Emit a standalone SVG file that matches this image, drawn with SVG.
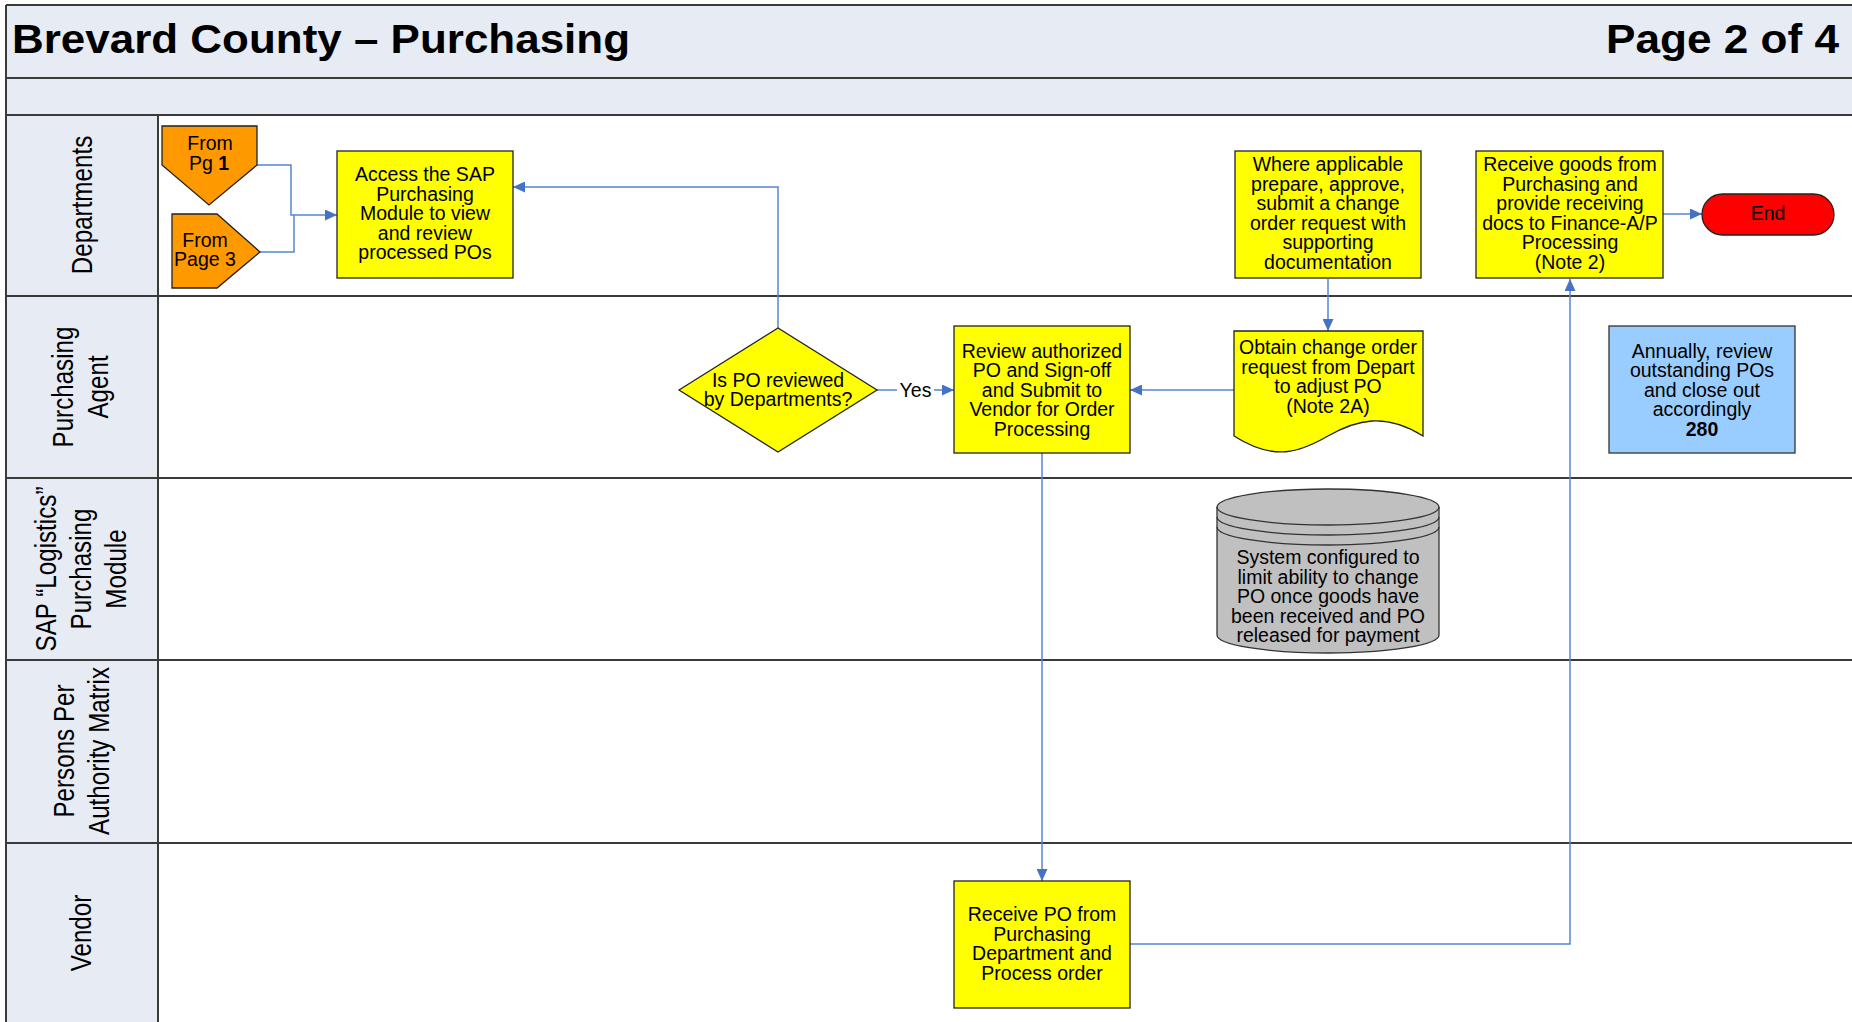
<svg xmlns="http://www.w3.org/2000/svg" width="1852" height="1022" viewBox="0 0 1852 1022">
<style>
  .bg { fill: #E7EBF4; }
  .sep { stroke: #3A3A3A; stroke-width: 2; fill: none; }
  .box { fill: #FFFF00; stroke: #222; stroke-width: 1.3; }
  .off { fill: #FF9900; stroke: #222; stroke-width: 1.3; }
  .t { font-family: "Liberation Sans", Arial, sans-serif; font-size: 19.5px; text-anchor: middle; fill: #000; }
  .lane { font-family: "Liberation Sans", Arial, sans-serif; font-size: 29.5px; text-anchor: middle; fill: #000; }
  .title { font-family: "Liberation Sans", Arial, sans-serif; font-size: 40px; font-weight: bold; fill: #000; }
  .conn { fill: none; stroke: #5585D0; stroke-width: 1.5; }
  .b { font-weight: bold; }
</style>
<defs>
  <marker id="arr" markerWidth="12" markerHeight="11" refX="12" refY="5.5" orient="auto" markerUnits="userSpaceOnUse">
    <path d="M0,0 L12,5.5 L0,11 Z" fill="#4472C4"/>
  </marker>
</defs>

<!-- background -->
<rect x="0" y="0" width="1852" height="1022" fill="#FFFFFF"/>
<rect class="bg" x="6" y="5" width="1846" height="110"/>
<rect class="bg" x="6" y="115" width="152" height="907"/>

<!-- swimlane frame -->
<g id="frame">
  <line class="sep" x1="6" y1="5" x2="1852" y2="5"/>
  <line class="sep" x1="6" y1="5" x2="6" y2="1022"/>
  <line class="sep" x1="6" y1="78" x2="1852" y2="78"/>
  <line class="sep" x1="6" y1="115" x2="1852" y2="115"/>
  <line class="sep" x1="6" y1="296" x2="1852" y2="296"/>
  <line class="sep" x1="6" y1="478" x2="1852" y2="478"/>
  <line class="sep" x1="6" y1="660" x2="1852" y2="660"/>
  <line class="sep" x1="6" y1="843" x2="1852" y2="843"/>
  <line class="sep" x1="158" y1="115" x2="158" y2="1022"/>
</g>

<g id="title">
  <text class="title" x="12" y="53" textLength="618" lengthAdjust="spacingAndGlyphs">Brevard County – Purchasing</text>
  <text class="title" x="1606" y="53" textLength="233" lengthAdjust="spacingAndGlyphs">Page 2 of 4</text>
</g>

<g id="lane-labels">
  <text class="lane" transform="translate(92 205) scale(1 0.82) rotate(-90)">Departments</text>
  <text class="lane" transform="translate(73 387) scale(1 0.82) rotate(-90)">Purchasing</text>
  <text class="lane" transform="translate(108 387) scale(1 0.82) rotate(-90)">Agent</text>
  <text class="lane" transform="translate(56 569) scale(1 0.82) rotate(-90)">SAP “Logistics”</text>
  <text class="lane" transform="translate(91 569) scale(1 0.82) rotate(-90)">Purchasing</text>
  <text class="lane" transform="translate(126 569) scale(1 0.82) rotate(-90)">Module</text>
  <text class="lane" transform="translate(74 751) scale(1 0.82) rotate(-90)">Persons Per</text>
  <text class="lane" transform="translate(109 751) scale(1 0.82) rotate(-90)">Authority Matrix</text>
  <text class="lane" transform="translate(91 933) scale(1 0.82) rotate(-90)">Vendor</text>
</g>

<!-- connectors -->
<g id="connectors">
  <polyline class="conn" points="257,165 291,165 291,215 337,215" marker-end="url(#arr)"/>
  <polyline class="conn" points="260,252 294,252 294,215"/>
  <polyline class="conn" points="778,328 778,187 513,187" marker-end="url(#arr)"/>
  <polyline class="conn" points="877,390 954,390" marker-end="url(#arr)"/>
  <polyline class="conn" points="1234,390 1130,390" marker-end="url(#arr)"/>
  <polyline class="conn" points="1328,279 1328,331" marker-end="url(#arr)"/>
  <polyline class="conn" points="1042,453 1042,881" marker-end="url(#arr)"/>
  <polyline class="conn" points="1130,944 1570,944 1570,279" marker-end="url(#arr)"/>
  <polyline class="conn" points="1663,214 1702,214" marker-end="url(#arr)"/>
  <g id="label-yes">
    <rect x="897" y="380" width="37" height="20" fill="#FFFFFF"/>
    <text class="t" x="915.5" y="396.5">Yes</text>
  </g>
</g>

<!-- nodes -->
<g id="from-pg1">
  <polygon class="off" points="162,126 257,126 257,165 209,205 162,165"/>
  <text class="t" x="210" y="150">From</text>
  <text class="t" x="209" y="170">Pg <tspan class="b">1</tspan></text>
</g>

<g id="from-page3">
  <polygon class="off" points="172,214 217,214 260,252 217,288 172,288"/>
  <text class="t" x="205" y="246.5">From</text>
  <text class="t" x="205" y="266">Page 3</text>
</g>

<g id="access-sap">
  <rect class="box" x="337" y="151" width="176" height="127"/>
  <text class="t" x="425" y="181">Access the SAP</text>
  <text class="t" x="425" y="200.5">Purchasing</text>
  <text class="t" x="425" y="220">Module to view</text>
  <text class="t" x="425" y="239.5">and review</text>
  <text class="t" x="425" y="259">processed POs</text>
</g>

<g id="where-applicable">
  <rect class="box" x="1235" y="151" width="186" height="127"/>
  <text class="t" x="1328" y="171">Where applicable</text>
  <text class="t" x="1328" y="190.5">prepare, approve,</text>
  <text class="t" x="1328" y="210">submit a change</text>
  <text class="t" x="1328" y="229.5">order request with</text>
  <text class="t" x="1328" y="249">supporting</text>
  <text class="t" x="1328" y="268.5">documentation</text>
</g>

<g id="receive-goods">
  <rect class="box" x="1476" y="151" width="187" height="127"/>
  <text class="t" x="1570" y="171">Receive goods from</text>
  <text class="t" x="1570" y="190.5">Purchasing and</text>
  <text class="t" x="1570" y="210">provide receiving</text>
  <text class="t" x="1570" y="229.5">docs to Finance-A/P</text>
  <text class="t" x="1570" y="249">Processing</text>
  <text class="t" x="1570" y="268.5">(Note 2)</text>
</g>

<g id="end">
  <rect x="1702" y="194" width="132" height="41" rx="20.5" ry="20.5" fill="#FF0000" stroke="#222" stroke-width="1.3"/>
  <text class="t" x="1768" y="220">End</text>
</g>

<g id="decision">
  <polygon points="679,390 778,328 877,390 778,452" fill="#FFFF00" stroke="#222" stroke-width="1.3"/>
  <text class="t" x="778" y="386.5">Is PO reviewed</text>
  <text class="t" x="778" y="406">by Departments?</text>
</g>

<g id="review-po">
  <rect class="box" x="954" y="326" width="176" height="127"/>
  <text class="t" x="1042" y="357.5">Review authorized</text>
  <text class="t" x="1042" y="377">PO and Sign-off</text>
  <text class="t" x="1042" y="396.5">and Submit to</text>
  <text class="t" x="1042" y="416">Vendor for Order</text>
  <text class="t" x="1042" y="435.5">Processing</text>
</g>

<g id="obtain-change">
  <path d="M1234,331 H1423 V436 C1385,412 1356,420 1328,436 C1300,452 1275,462 1234,436 Z" fill="#FFFF00" stroke="#222" stroke-width="1.3"/>
  <text class="t" x="1328" y="354">Obtain change order</text>
  <text class="t" x="1328" y="373.5">request from Depart</text>
  <text class="t" x="1328" y="393">to adjust PO</text>
  <text class="t" x="1328" y="412.5">(Note 2A)</text>
</g>

<g id="annually">
  <rect x="1609" y="326" width="186" height="127" fill="#99CCFF" stroke="#333" stroke-width="1.3"/>
  <text class="t" x="1702" y="357.5">Annually, review</text>
  <text class="t" x="1702" y="377">outstanding POs</text>
  <text class="t" x="1702" y="396.5">and close out</text>
  <text class="t" x="1702" y="416">accordingly</text>
  <text class="t b" x="1702" y="435.5">280</text>
</g>

<g id="system-configured">
  <path d="M1217,507 A111,18 0 0 1 1439,507 L1439,635 A111,18 0 0 1 1217,635 Z" fill="#C0C0C0" stroke="#333" stroke-width="1.3"/>
  <path d="M1217,507 A111,18 0 0 0 1439,507 M1217,517 A111,18 0 0 0 1439,517 M1217,527 A111,18 0 0 0 1439,527" fill="none" stroke="#333" stroke-width="1.3"/>
  <text class="t" x="1328" y="564">System configured to</text>
  <text class="t" x="1328" y="583.5">limit ability to change</text>
  <text class="t" x="1328" y="603">PO once goods have</text>
  <text class="t" x="1328" y="622.5">been received and PO</text>
  <text class="t" x="1328" y="642">released for payment</text>
</g>

<g id="receive-po">
  <rect class="box" x="954" y="881" width="176" height="127"/>
  <text class="t" x="1042" y="921">Receive PO from</text>
  <text class="t" x="1042" y="940.5">Purchasing</text>
  <text class="t" x="1042" y="960">Department and</text>
  <text class="t" x="1042" y="979.5">Process order</text>
</g>
</svg>
